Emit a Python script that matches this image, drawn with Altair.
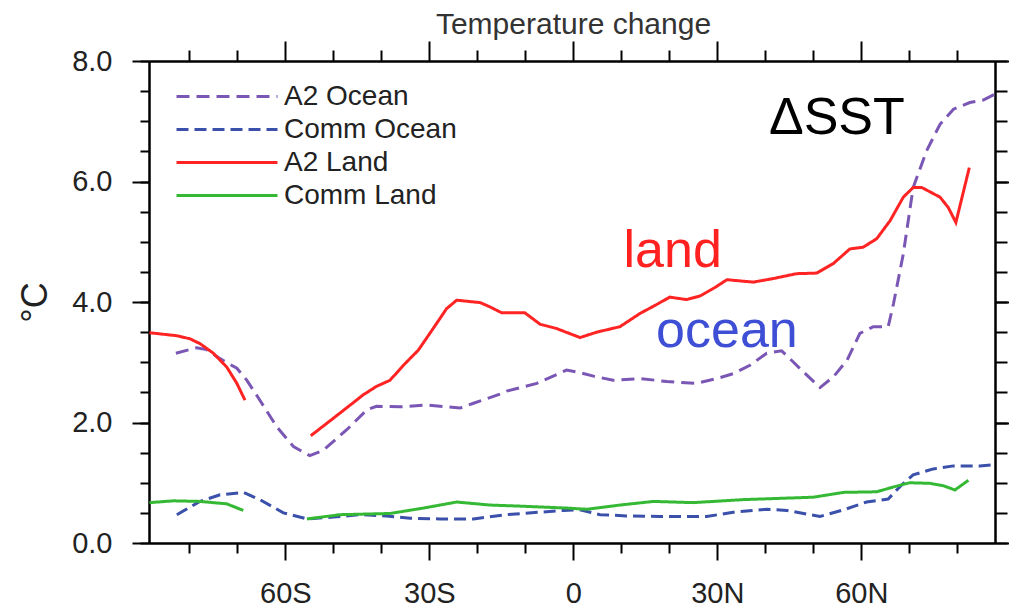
import altair as alt
import pandas as pd

FONT = "Liberation Sans"

# Series names, colours and dash styles
series_names = ["A2 Ocean", "Comm Ocean", "A2 Land", "Comm Land"]
series_colors = ["#7b57b5", "#3a50aa", "#ff2424", "#35b935"]
series_dashes = [[13, 7], [12, 6], [1, 0], [1, 0]]

# A2 ocean (zonal mean, degrees latitude / deg C)
a2_ocean_lat = [-82.8, -78.5, -76.4, -73.6, -70.1, -68.0, -65.3, -61.8, -58.3, -54.9,
                -52.1, -47.2, -43.0, -41.0, -36.1, -30.5, -23.6, -20.8, -15.3, -13.9,
                -7.6, -1.4, 0.7, 4.2, 8.3, 13.9, 19.5, 25.7, 29.9, 33.3,
                36.8, 40.3, 43.4, 45.1, 48.6, 51.4, 54.2, 57.0, 59.7, 62.5,
                65.6, 66.7, 68.75, 70.8, 73.6, 76.4, 79.2, 82.6, 85.4, 87.85]
a2_ocean_val = [3.15, 3.24, 3.21, 3.06, 2.90, 2.70, 2.37, 1.93, 1.60, 1.45,
                1.54, 1.88, 2.21, 2.27, 2.26, 2.29, 2.24, 2.32, 2.47, 2.52,
                2.65, 2.87, 2.84, 2.77, 2.70, 2.73, 2.68, 2.65, 2.73, 2.81,
                2.95, 3.15, 3.19, 3.06, 2.79, 2.58, 2.76, 3.03, 3.48, 3.59,
                3.59, 3.97, 4.80, 5.90, 6.51, 6.95, 7.20, 7.31, 7.35, 7.45]

# Commitment ocean
comm_ocean_lat = [-82.6, -77.8, -73.6, -68.75, -65.3, -60.4, -55.5, -50.0, -44.4, -38.9,
                  -34.0, -27.8, -20.8, -13.9, -2.1, 1.4, 5.6, 11.1, 18.1, 27.8,
                  33.3, 40.3, 44.5, 51.4, 56.3, 61.1, 65.6, 68.1, 70.8, 75.0,
                  79.2, 84.7, 87.85]
comm_ocean_val = [0.47, 0.69, 0.80, 0.84, 0.72, 0.50, 0.40, 0.43, 0.47, 0.45,
                  0.41, 0.40, 0.40, 0.47, 0.54, 0.55, 0.47, 0.45, 0.44, 0.44,
                  0.51, 0.56, 0.54, 0.44, 0.55, 0.68, 0.73, 0.94, 1.13, 1.23,
                  1.28, 1.28, 1.30]

# A2 land: Antarctic segment and the rest (no land in the Southern Ocean band)
a2_land_lat_s = [-88.3, -82.6, -79.9, -77.8, -75.0, -72.2, -70.1, -68.4]
a2_land_val_s = [3.49, 3.44, 3.39, 3.31, 3.15, 2.92, 2.65, 2.37]
a2_land_lat_n = [-54.7, -50.0, -43.75, -41.0, -38.2, -35.4, -32.3, -29.2, -26.4, -24.3,
                 -19.4, -17.4, -14.9, -10.1, -6.9, -3.5, 1.4, 4.9, 9.7, 13.9,
                 16.7, 20.1, 23.6, 26.4, 29.5, 32.0, 37.5, 41.7, 46.5, 50.7,
                 54.2, 57.6, 60.4, 63.2, 66.0, 68.75, 70.8, 72.6, 76.4, 78.1,
                 79.7, 82.5]
a2_land_val_n = [1.78, 2.07, 2.46, 2.60, 2.70, 2.95, 3.20, 3.56, 3.89, 4.03,
                 3.99, 3.92, 3.82, 3.82, 3.63, 3.56, 3.41, 3.50, 3.59, 3.81,
                 3.93, 4.08, 4.04, 4.10, 4.24, 4.37, 4.33, 4.39, 4.47, 4.48,
                 4.64, 4.88, 4.91, 5.05, 5.35, 5.74, 5.90, 5.90, 5.74, 5.57,
                 5.32, 6.23]

# Commitment land
comm_land_lat_s = [-88.3, -83.3, -77.8, -72.2, -68.75]
comm_land_val_s = [0.67, 0.70, 0.69, 0.65, 0.54]
comm_land_lat_n = [-55.5, -48.6, -38.2, -31.2, -24.3, -17.4, -10.4, -1.4, 2.8, 9.7,
                   16.7, 25.0, 35.4, 50.0, 56.3, 63.2, 66.7, 70.1, 74.3, 77.1,
                   79.5, 82.3]
comm_land_val_n = [0.40, 0.47, 0.49, 0.58, 0.68, 0.63, 0.61, 0.58, 0.56, 0.63,
                   0.69, 0.67, 0.72, 0.76, 0.84, 0.85, 0.93, 1.00, 0.99, 0.95,
                   0.88, 1.04]

# Axis ticks
x_domain = [-88.4, 87.85]
y_domain = [0, 8]
x_major = [-60, -30, 0, 30, 60]
x_major_labels = ["60S", "30S", "0", "30N", "60N"]
x_minor = [-80, -70, -50, -40, -20, -10, 10, 20, 40, 50, 70, 80]
y_major = [0, 2, 4, 6, 8]
y_minor = [0.5 * i for i in range(17)]

# Text annotations
ann_text = ["\u0394SST", "land", "ocean"]
ann_lat = [54.9, 20.7, 32.0]
ann_val = [6.79, 4.58, 3.255]
ann_color = ["#000000", "#ff2020", "#3e4fd6"]

rows = []


def add(name, seg, lats, vals):
    for la, v in zip(lats, vals):
        rows.append({"series": name, "key": f"{name}-{seg}", "lat": la, "val": v})


add("A2 Ocean", 0, a2_ocean_lat, a2_ocean_val)
add("Comm Ocean", 0, comm_ocean_lat, comm_ocean_val)
add("A2 Land", 0, a2_land_lat_s, a2_land_val_s)
add("A2 Land", 1, a2_land_lat_n, a2_land_val_n)
add("Comm Land", 0, comm_land_lat_s, comm_land_val_s)
add("Comm Land", 1, comm_land_lat_n, comm_land_val_n)
df = pd.DataFrame(rows)

ann_df = pd.DataFrame({"text": ann_text, "lat": ann_lat, "val": ann_val, "c": ann_color})

xs = alt.Scale(domain=x_domain, nice=False, zero=False)
ys = alt.Scale(domain=y_domain, nice=False, zero=False)

label_expr = " : ".join(
    f"datum.value == {v} ? '{t}'" for v, t in zip(x_major, x_major_labels)
) + " : ''"

common_axis = dict(grid=False, domainColor="black", domainWidth=2,
                   tickColor="black", tickWidth=2, labelFont=FONT,
                   labelColor="#222222")


def x_axis(orient, values, size, labels=False):
    kw = dict(common_axis)
    if labels:
        kw.update(labelExpr=label_expr, labelFontSize=29, labelPadding=19,
                  labelOverlap=False, labelFlush=False)
    return alt.Axis(orient=orient, values=values, tickSize=size, labels=labels,
                    title=None, **kw)


def y_axis(orient, values, size, labels=False, title=None):
    kw = dict(common_axis)
    if labels:
        kw.update(format=".1f", labelFontSize=29, labelPadding=20, labelOverlap=False)
    if title:
        kw.update(title=title, titleFont=FONT, titleFontSize=36,
                  titleFontWeight="normal", titleColor="#222222",
                  titleAngle=-90, titleBaseline="alphabetic", titleX=-103)
    else:
        kw.update(title=None)
    return alt.Axis(orient=orient, values=values, tickSize=size, labels=labels, **kw)


legend = alt.Legend(
    title=None, orient="none", legendX=26, legendY=20, symbolType="stroke",
    symbolSize=10200, symbolStrokeWidth=3, clipHeight=31, rowPadding=2,
    labelFont=FONT, labelFontSize=28, labelColor="#222222", labelOffset=5,
    labelLimit=400, padding=0,
)

base = alt.Chart(df)

lines = base.mark_line(strokeWidth=3).encode(
    x=alt.X("lat:Q", scale=xs, axis=x_axis("bottom", x_major, 17, labels=True)),
    y=alt.Y("val:Q", scale=ys, axis=y_axis("left", y_major, 17, labels=True, title="°C")),
    color=alt.Color("series:N", scale=alt.Scale(domain=series_names, range=series_colors),
                    legend=legend),
    strokeDash=alt.StrokeDash("series:N",
                              scale=alt.Scale(domain=series_names, range=series_dashes),
                              legend=legend),
    detail="key:N",
)


def axis_layer(xa, ya):
    return base.mark_line(strokeOpacity=0).encode(
        x=alt.X("lat:Q", scale=xs, axis=xa),
        y=alt.Y("val:Q", scale=ys, axis=ya),
        detail="key:N",
    )


minor_ticks = axis_layer(x_axis("bottom", x_minor, 10), y_axis("left", y_minor, 9))
top_right_major = axis_layer(x_axis("top", x_major, 20), y_axis("right", y_major, 16))
top_right_minor = axis_layer(x_axis("top", x_minor, 11), y_axis("right", y_minor, 12))

notes = alt.Chart(ann_df).mark_text(
    font=FONT, fontSize=52, align="center", baseline="alphabetic"
).encode(
    x=alt.X("lat:Q", scale=xs, axis=None),
    y=alt.Y("val:Q", scale=ys, axis=None),
    text="text:N",
    color=alt.Color("c:N", scale=None),
)

chart = alt.layer(
    lines, minor_ticks, top_right_major, top_right_minor, notes
).resolve_axis(
    x="independent", y="independent"
).properties(
    width=846,
    height=482,
    title=alt.TitleParams(
        "Temperature change", font=FONT, fontSize=30, fontWeight="normal",
        color="#333333", anchor="middle", frame="bounds", offset=0,
        baseline="bottom", dy=30, dx=59,
    ),
    autosize=alt.AutoSizeParams(type="none"),
    padding={"left": 149, "top": 61, "right": 14, "bottom": 65},
    background="white",
).configure_view(stroke=None)

chart.save("out.html", embed_options={"renderer": "svg", "actions": False})
